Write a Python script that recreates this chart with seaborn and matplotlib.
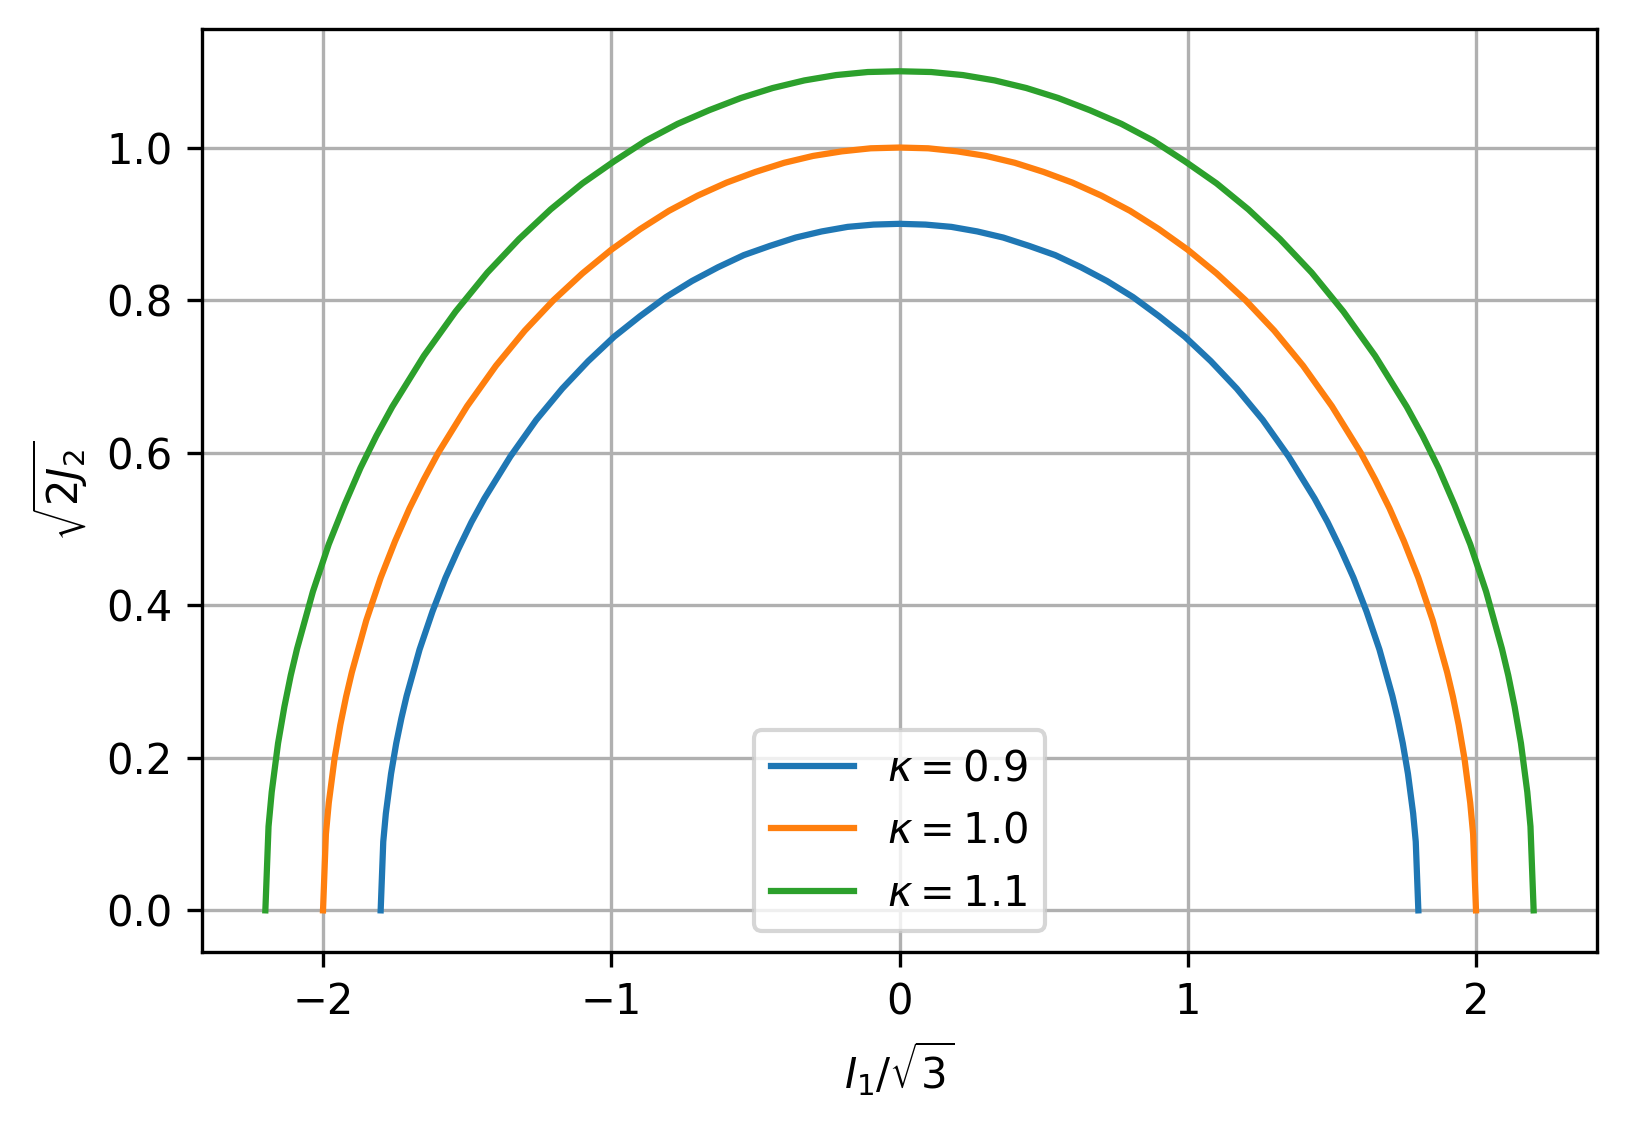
import matplotlib
matplotlib.use("Agg")
import matplotlib.pyplot as plt
import pandas as pd
import seaborn as sns

# values (left half, mirrored for the right half)
kappas = [0.9, 1.0, 1.1]

x_09 = [-1.8, -1.791, -1.782, -1.764, -1.746, -1.728, -1.71, -1.665, -1.62, -1.575,
        -1.53, -1.485, -1.44, -1.35, -1.26, -1.17, -1.08, -0.99, -0.9, -0.81,
        -0.72, -0.63, -0.54, -0.45, -0.36, -0.27, -0.18, -0.09, 0.0]
y_09 = [0.0, 0.090, 0.127, 0.179, 0.219, 0.252, 0.281, 0.342, 0.392, 0.436,
        0.474, 0.509, 0.540, 0.595, 0.643, 0.684, 0.720, 0.752, 0.779, 0.804,
        0.825, 0.843, 0.859, 0.871, 0.882, 0.890, 0.896, 0.899, 0.9]

x_10 = [-2.0, -1.99, -1.98, -1.96, -1.94, -1.92, -1.9, -1.85, -1.8, -1.75,
        -1.7, -1.65, -1.6, -1.5, -1.4, -1.3, -1.2, -1.1, -1.0, -0.9,
        -0.8, -0.7, -0.6, -0.5, -0.4, -0.3, -0.2, -0.1, 0.0]
y_10 = [0.0, 0.100, 0.141, 0.199, 0.243, 0.280, 0.312, 0.380, 0.436, 0.484,
        0.527, 0.565, 0.600, 0.661, 0.714, 0.760, 0.800, 0.835, 0.866, 0.893,
        0.917, 0.937, 0.954, 0.968, 0.980, 0.989, 0.995, 0.999, 1.0]

x_11 = [-2.2, -2.189, -2.178, -2.156, -2.134, -2.112, -2.09, -2.035, -1.98, -1.925,
        -1.87, -1.815, -1.76, -1.65, -1.54, -1.43, -1.32, -1.21, -1.1, -0.99,
        -0.88, -0.77, -0.66, -0.55, -0.44, -0.33, -0.22, -0.11, 0.0]
y_11 = [0.0, 0.110, 0.155, 0.219, 0.267, 0.308, 0.343, 0.418, 0.480, 0.532,
        0.580, 0.622, 0.660, 0.727, 0.785, 0.836, 0.880, 0.919, 0.953, 0.982,
        1.009, 1.031, 1.049, 1.065, 1.078, 1.088, 1.095, 1.099, 1.1]

curves = {0.9: (x_09, y_09), 1.0: (x_10, y_10), 1.1: (x_11, y_11)}

rows = []
for k in kappas:
    xs, ys = curves[k]
    full_x = xs + [-v for v in xs[-2::-1]]
    full_y = ys + ys[-2::-1]
    for i, (a, b) in enumerate(zip(full_x, full_y)):
        rows.append({"x": a, "y": b, "order": i, "label": rf"$\kappa = {k}$"})
df = pd.DataFrame(rows)

fig = plt.figure(figsize=(1626 / 300, 1127 / 300), dpi=300)
ax = fig.add_axes([0.1242, 0.155, 0.858, 0.819])
colors = ["#1f77b4", "#ff7f0e", "#2ca02c"]
for k, c in zip(kappas, colors):
    d = df[df["label"] == rf"$\kappa = {k}$"]
    sns.lineplot(data=d, x="x", y="y", sort=False, estimator=None, color=c,
                 label=rf"$\kappa = {k}$", ax=ax, linewidth=1.5)

ax.grid(True)
ax.set_xlabel(r"$I_1/\sqrt{3}$")
ax.set_ylabel(r"$\sqrt{2J_2}$")
ax.legend(loc="lower center")
fig.savefig("out.png", dpi=300)
